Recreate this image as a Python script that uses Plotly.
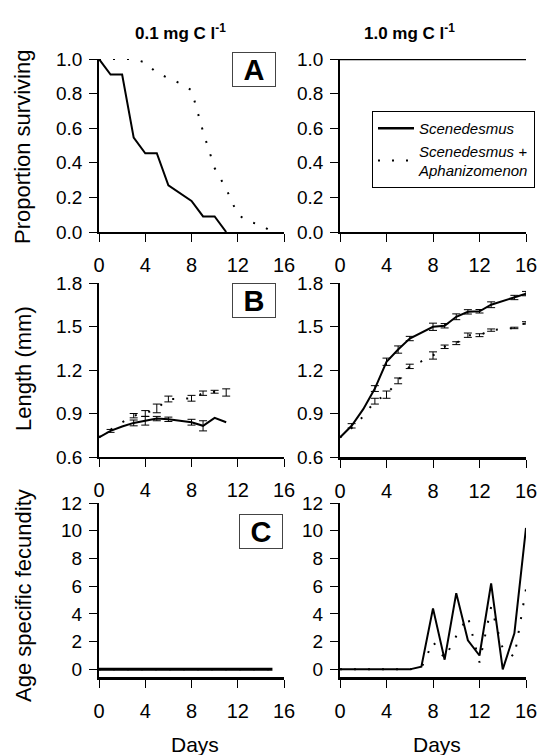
import plotly.graph_objects as go

W, H = 544, 755
FONT = "Liberation Sans, Arial, sans-serif"

# ---------------- data ----------------
days_A_s_low = [0, 1, 2, 3, 4, 5, 6, 7, 8, 9, 10, 11]
surv_s_low = [1.0, 0.91, 0.91, 0.545, 0.455, 0.455, 0.27, 0.225, 0.18, 0.09, 0.09, 0.0]
days_A_sa_low = [0, 1, 2, 3, 4, 5, 6, 7, 8, 9, 10, 11, 12, 13, 14, 15]
surv_sa_low = [1.0, 1.0, 1.0, 1.0, 0.98, 0.92, 0.89, 0.86, 0.82, 0.58, 0.37, 0.25, 0.10, 0.06, 0.04, 0.0]

days_high = [0, 1, 2, 3, 4, 5, 6, 7, 8, 9, 10, 11, 12, 13, 14, 15, 16]
surv_s_high = [1.0] * 17
surv_sa_high = [1.0] * 17

days_B_low = [0, 1, 2, 3, 4, 5, 6, 7, 8, 9, 10, 11]
len_s_low = [0.736, 0.78, 0.81, 0.835, 0.85, 0.865, 0.86, 0.85, 0.84, 0.815, 0.87, 0.84]
sd_s_low = [0, 0.01, 0, 0.02, 0.03, 0.015, 0.015, 0, 0.02, 0.035, 0, 0]
len_sa_low = [0.736, 0.79, 0.84, 0.885, 0.90, 0.935, 1.0, 1.0, 1.005, 1.04, 1.05, 1.045]
sd_sa_low = [0, 0, 0, 0.015, 0.02, 0.03, 0.02, 0, 0.02, 0.015, 0.01, 0.025]

len_s_high = [0.735, 0.815, 0.93, 1.072, 1.257, 1.341, 1.417, 1.455, 1.498, 1.505, 1.567, 1.601, 1.605, 1.65, 1.675, 1.70, 1.727]
sd_s_high = [0, 0.015, 0, 0.02, 0.025, 0.025, 0.015, 0, 0.025, 0.015, 0.02, 0.015, 0.012, 0.02, 0, 0.015, 0.015]
len_sa_high = [0.735, 0.80, 0.88, 0.985, 1.03, 1.125, 1.225, 1.26, 1.30, 1.36, 1.385, 1.44, 1.44, 1.475, 1.48, 1.49, 1.525]
sd_sa_high = [0, 0, 0, 0.02, 0.025, 0.02, 0.015, 0, 0.025, 0.012, 0.01, 0.015, 0.01, 0.008, 0, 0.005, 0.008]

days_C_low = [0, 1, 2, 3, 4, 5, 6, 7, 8, 9, 10, 11, 12, 13, 14, 15]
fec_s_low = [0] * 16
fec_sa_low = [0] * 16
fec_s_high = [0, 0, 0, 0, 0, 0, 0, 0.2, 4.4, 0.7, 5.5, 2.1, 1.0, 6.2, 0, 2.6, 10.2]
fec_sa_high = [0, 0, 0, 0, 0, 0, 0, 0.1, 2.0, 0.8, 2.4, 3.8, 0.5, 4.5, 1.5, 0.9, 5.8]

x_ticks = [0, 4, 8, 12, 16]
yA_ticks = [0, 0.2, 0.4, 0.6, 0.8, 1.0]
yB_ticks = [0.6, 0.9, 1.2, 1.5, 1.8]
yC_ticks = [0, 2, 4, 6, 8, 10, 12]

col_titles = ["0.1 mg C l<sup>-1</sup>", "1.0 mg C l<sup>-1</sup>"]
row_titles = ["Proportion surviving", "Length (mm)", "Age specific fecundity"]
panel_letters = ["A", "B", "C"]
name_s = "<i>Scenedesmus</i>"
name_sa = "<i>Scenedesmus +<br>Aphanizomenon</i>"

# ---------------- layout geometry (pixels) ----------------
cols_px = [(99, 284), (340, 526)]
rows_px = [(59, 232), (283, 457), (503, 677)]


def xdom(c):
    a, b = cols_px[c]
    return [a / W, b / W]


def ydom(r):
    t, b = rows_px[r]
    return [1 - b / H, 1 - t / H]


fig = go.Figure()
DOT = "2px,12px"


def add_line(ax, x, y, solid, name=None, show=False, width=2):
    fig.add_trace(go.Scatter(
        x=x, y=y, mode="lines", xaxis="x" + ax, yaxis="y" + ax,
        line=dict(color="black", width=width, dash=None if solid else DOT),
        name=name, showlegend=show, cliponaxis=False, hoverinfo="skip"))


def add_err(ax, x, y, sd):
    xs = [xi for xi, s in zip(x, sd) if s > 0]
    ys = [yi for yi, s in zip(y, sd) if s > 0]
    ss = [s for s in sd if s > 0]
    fig.add_trace(go.Scatter(
        x=xs, y=ys, mode="markers", xaxis="x" + ax, yaxis="y" + ax,
        marker=dict(size=1, color="rgba(0,0,0,0)"), showlegend=False, cliponaxis=False,
        error_y=dict(type="data", array=ss, visible=True, thickness=1, width=4, color="black"),
        hoverinfo="skip"))


# A
add_line("", days_A_s_low, surv_s_low, True)
add_line("", days_A_sa_low, surv_sa_low, False)
add_line("2", days_high, surv_s_high, True, name_s, True, width=2.5)
add_line("2", days_high, surv_sa_high, False, name_sa, True)
# B
add_line("3", days_B_low, len_s_low, True)
add_line("3", days_B_low, len_sa_low, False)
add_err("3", days_B_low, len_s_low, sd_s_low)
add_err("3", days_B_low, len_sa_low, sd_sa_low)
add_line("4", days_high, len_s_high, True)
add_line("4", days_high, len_sa_high, False)
add_err("4", days_high, len_s_high, sd_s_high)
add_err("4", days_high, len_sa_high, sd_sa_high)
# C
add_line("5", days_C_low, fec_s_low, True, width=3)
add_line("5", days_C_low, fec_sa_low, False)
add_line("6", days_high, fec_s_high, True)
add_line("6", days_high, fec_sa_high, False)

axis_common = dict(showline=True, linecolor="black", linewidth=1.5, ticks="outside",
                   ticklen=8, tickwidth=1, tickcolor="black", showgrid=False, zeroline=False,
                   fixedrange=True)

layout = {}
ids = ["", "2", "3", "4", "5", "6"]
yranges = [[0, 1], [0.6, 1.8], [-0.55, 12]]
yticks = [yA_ticks, yB_ticks, yC_ticks]
yfmt = [".1f", ".1f", "d"]
for i, ax in enumerate(ids):
    r, c = divmod(i, 2)
    xlw = 1.5
    ylw = 1.5
    if r == 2:
        xlw = 2.5
        ylw = 2
    if r == 1 and c == 1:
        xlw = 3
    layout["xaxis" + ax] = dict(axis_common, domain=xdom(c), range=[0, 16], tickvals=x_ticks,
                                anchor="y" + ax, linewidth=xlw, ticklabelstandoff=6,
                                tickfont=dict(family=FONT, size=20, color="black"))
    layout["yaxis" + ax] = dict(axis_common, domain=ydom(r), range=yranges[r], tickvals=yticks[r],
                                tickformat=yfmt[r], anchor="x" + ax, linewidth=ylw,
                                ticklabelstandoff=3,
                                tickfont=dict(family=FONT, size=19, color="black"))

annotations = []


def ann(text, px, py, size, **kw):
    d = dict(text=text, x=px / W, y=1 - py / H, xref="paper", yref="paper",
             xanchor="center", yanchor="middle", showarrow=False,
             font=dict(family=FONT, size=size, color="black"))
    d.update(kw)
    annotations.append(d)


for cx, t in zip([180, 409], col_titles):
    ann("<b>" + t + "</b>", cx, 32, 17)
for cy, t in zip([147, 369, 596], row_titles):
    ann(t, 23, cy, 22, textangle=-90)
for cx in [195, 437]:
    ann("Days", cx, 744, 21)
for (lx, ly), t in zip([(254, 69.5), (254, 300), (260.5, 531.5)], panel_letters):
    ann("<b>" + t + "</b>", lx, ly, 29, width=40, height=31, borderpad=1, borderwidth=1,
        bordercolor="#444", bgcolor="white")

fig.update_layout(
    width=W, height=H, margin=dict(l=0, r=0, t=0, b=0, autoexpand=False),
    paper_bgcolor="white", plot_bgcolor="white",
    annotations=annotations,
    legend=dict(x=372 / W, y=1 - 111 / H, xanchor="left", yanchor="top",
                bordercolor="black", borderwidth=1, bgcolor="white",
                font=dict(family=FONT, size=15, color="black"), itemwidth=36,
                tracegroupgap=0),
    **layout)

fig.write_html("out.html", config={"displayModeBar": False},
               post_script="document.body.style.margin='0';")
